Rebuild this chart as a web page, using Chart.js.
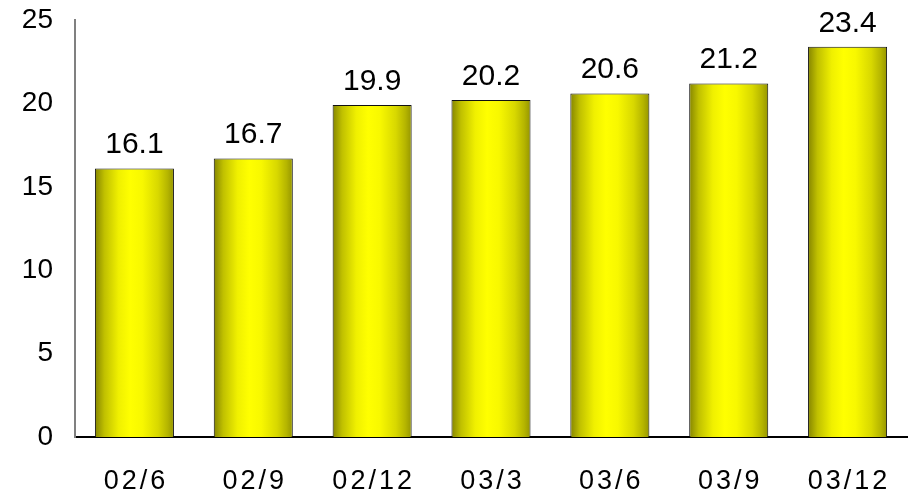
<!DOCTYPE html>
<html>
<head>
<meta charset="utf-8">
<script src="https://cdn.jsdelivr.net/npm/chart.js@4/dist/chart.umd.min.js"></script>
<style>
  html, body { margin: 0; padding: 0; background: #fff; }
  #wrap { width: 910px; height: 494px; }
</style>
</head>
<body>
<div id="wrap"><canvas id="chart"></canvas></div>
<script>
const categories = ["02/6", "02/9", "02/12", "03/3", "03/6", "03/9", "03/12"];
const values = [16.1, 16.7, 19.9, 20.2, 20.6, 21.2, 23.4];
const yTicks = [0, 5, 10, 15, 20, 25];

const FONT = "'Liberation Sans', Arial, sans-serif";
const BAR_PCT = 0.665;

// horizontal gradient for each bar, based on where the x scale puts it
function barFill(c) {
  const chart = c.chart;
  const xs = chart.scales.x;
  if (!xs || !chart.chartArea) return "#e6e600";
  const cx = xs.getPixelForValue(c.dataIndex);
  const w = (xs.width / categories.length) * BAR_PCT;
  const g = chart.ctx.createLinearGradient(cx - w / 2, 0, cx + w / 2, 0);
  g.addColorStop(0, "#858500");
  g.addColorStop(0.12, "#c0c000");
  g.addColorStop(0.3, "#f0f000");
  g.addColorStop(0.45, "#ffff00");
  g.addColorStop(0.6, "#f8f800");
  g.addColorStop(0.8, "#d8d800");
  g.addColorStop(0.92, "#b5b500");
  g.addColorStop(1, "#959500");
  return g;
}

// value labels above bars and spaced-out category labels
const labels = {
  id: "labels",
  afterDatasetsDraw(chart) {
    const ctx = chart.ctx;
    const meta = chart.getDatasetMeta(0);
    const xs = chart.scales.x;
    ctx.save();
    ctx.fillStyle = "#000";
    ctx.textAlign = "center";
    ctx.textBaseline = "alphabetic";
    ctx.font = "30px " + FONT;
    meta.data.forEach((bar, i) => {
      ctx.fillText(values[i].toFixed(1), bar.x, bar.y - 15);
    });
    ctx.font = "27px " + FONT;
    ctx.letterSpacing = "3px";
    categories.forEach((c, i) => {
      ctx.fillText(c, xs.getPixelForValue(i) + 1.5, xs.bottom - 5);
    });
    ctx.restore();
  }
};

new Chart(document.getElementById("chart"), {
  type: "bar",
  data: {
    labels: categories,
    datasets: [{
      data: values,
      backgroundColor: barFill,
      borderColor: "#111",
      borderWidth: 1,
      barPercentage: BAR_PCT,
      categoryPercentage: 1
    }]
  },
  options: {
    responsive: true,
    maintainAspectRatio: false,
    animation: false,
    layout: { padding: { top: 20, right: 3, left: 0, bottom: 0 } },
    plugins: {
      legend: { display: false },
      tooltip: { enabled: false }
    },
    scales: {
      x: {
        grid: { display: false, drawTicks: false },
        border: { color: "#000", width: 2 },
        ticks: { display: false },
        afterFit(s) { s.height = 57; }
      },
      y: {
        min: 0,
        max: 25,
        afterBuildTicks(s) { s.ticks = yTicks.map(v => ({ value: v })); },
        grid: { display: false, drawTicks: false },
        border: { color: "#808080", width: 2 },
        ticks: { color: "#000", font: { family: FONT, size: 28 }, padding: 22 },
        afterFit(s) { s.width = 75; s.paddingTop = 0; s.paddingBottom = 0; }
      }
    }
  },
  plugins: [labels]
});
</script>
</body>
</html>
